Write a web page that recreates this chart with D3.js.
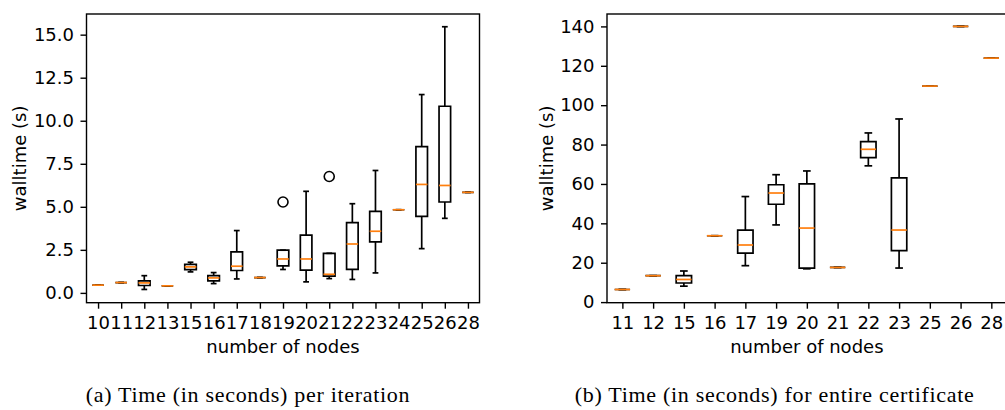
<!DOCTYPE html>
<meta http-equiv="content-type" content="text/html; charset=utf-8" />
<html>
  <head>
    <script src="https://d3js.org/d3.v7.min.js"></script>
    <style>
      body { margin: 0; background: #fff; }
      .tick text { font-family: "DejaVu Sans", sans-serif; font-size: 18px; fill: #000; }
      .lbl { font-family: "DejaVu Sans", sans-serif; font-size: 18px; fill: #000; }
      .caption { font-family: "Liberation Serif", "Times New Roman", serif; font-size: 22px; letter-spacing: 0.7px; fill: #000; }
    </style>
  </head>
  <body>
    <div id="viz"></div>
    <script>
      // (a) time per iteration
      let leftNodes = ['10','11','12','13','15','16','17','18','19','20','21','22','23','24','25','26','28'];
      let leftLo  = [0.45, 0.60, 0.20, 0.41, 1.22, 0.54, 0.81, 0.89, 1.36, 0.64, 0.83, 0.78, 1.16, 4.83, 2.57, 4.33, 5.84];
      let leftQ1  = [0.45, 0.60, 0.43, 0.41, 1.35, 0.70, 1.30, 0.89, 1.57, 1.32, 0.97, 1.37, 2.96, 4.83, 4.45, 5.28, 5.84];
      let leftMed = [0.45, 0.60, 0.58, 0.41, 1.51, 0.87, 1.55, 0.89, 1.97, 1.97, 1.08, 2.84, 3.58, 4.83, 6.30, 6.24, 5.84];
      let leftQ3  = [0.45, 0.60, 0.70, 0.41, 1.66, 1.00, 2.38, 0.89, 2.48, 3.36, 2.30, 4.08, 4.74, 4.83, 8.50, 10.84, 5.84];
      let leftHi  = [0.45, 0.60, 1.00, 0.41, 1.78, 1.18, 3.62, 0.89, 2.48, 5.90, 2.30, 5.18, 7.11, 4.83, 11.52, 15.46, 5.84];
      let leftFliers = [[], [], [], [], [], [], [], [], [5.28], [], [6.76], [], [], [], [], [], []];
      let leftTicks = [0, 2.5, 5, 7.5, 10, 12.5, 15];

      // (b) time for entire certificate
      let rightNodes = ['11','12','15','16','17','19','20','21','22','23','25','26','28'];
      let rightLo  = [6.4, 13.4, 8.1, 33.7, 18.5, 39.2, 16.9, 17.6, 69.2, 17.3, 109.7, 140.0, 123.9];
      let rightQ1  = [6.4, 13.4, 9.7, 33.7, 24.9, 49.7, 17.3, 17.6, 73.4, 26.1, 109.7, 140.0, 123.9];
      let rightMed = [6.4, 13.4, 11.5, 33.7, 29.0, 55.4, 37.6, 17.6, 77.6, 36.6, 109.7, 140.0, 123.9];
      let rightQ3  = [6.4, 13.4, 13.4, 33.7, 36.6, 59.6, 60.0, 17.6, 81.5, 63.1, 109.7, 140.0, 123.9];
      let rightHi  = [6.4, 13.4, 15.8, 33.7, 53.6, 64.7, 66.6, 17.6, 85.9, 93.0, 109.7, 140.0, 123.9];
      let rightFliers = rightNodes.map(() => []);
      let rightTicks = [0, 20, 40, 60, 80, 100, 120, 140];

      let svg = d3.select('#viz')
        .append('svg')
        .attr('width', 1005)
        .attr('height', 410);

      function boxPanel(opt) {
        let x = d3.scalePoint()
          .domain(opt.nodes)
          .range([opt.left, opt.right])
          .padding(0.5);
        let y = d3.scaleLinear()
          .domain(opt.yDomain)
          .range([opt.bottom, opt.top]);

        let g = svg.append('g');
        let boxW = x.step() * 0.5;
        let stats = opt.nodes.map((n, i) => ({
          n: n, lo: opt.lo[i], q1: opt.q1[i], med: opt.med[i], q3: opt.q3[i], hi: opt.hi[i], fl: opt.fliers[i]
        }));

        let bx = g.selectAll('.box').data(stats).join('g').attr('class', 'box')
          .attr('fill', 'none').attr('stroke', '#000').attr('stroke-width', 1.7);

        // box
        bx.append('path')
          .attr('d', d => `M${x(d.n) - boxW / 2},${y(d.q1)}H${x(d.n) + boxW / 2}V${y(d.q3)}H${x(d.n) - boxW / 2}Z`);
        // whiskers
        bx.append('line')
          .attr('x1', d => x(d.n)).attr('x2', d => x(d.n))
          .attr('y1', d => y(d.q1)).attr('y2', d => y(d.lo));
        bx.append('line')
          .attr('x1', d => x(d.n)).attr('x2', d => x(d.n))
          .attr('y1', d => y(d.q3)).attr('y2', d => y(d.hi));
        // caps
        bx.append('line')
          .attr('x1', d => x(d.n) - boxW / 4).attr('x2', d => x(d.n) + boxW / 4)
          .attr('y1', d => y(d.lo)).attr('y2', d => y(d.lo));
        bx.append('line')
          .attr('x1', d => x(d.n) - boxW / 4).attr('x2', d => x(d.n) + boxW / 4)
          .attr('y1', d => y(d.hi)).attr('y2', d => y(d.hi));
        // fliers
        bx.selectAll('circle').data(d => d.fl.map(v => ({n: d.n, v: v}))).join('circle')
          .attr('cx', d => x(d.n)).attr('cy', d => y(d.v)).attr('r', 5)
          .attr('stroke-width', 1.6);
        // median
        bx.append('line')
          .attr('stroke', '#ff7f0e')
          .attr('x1', d => x(d.n) - boxW / 2).attr('x2', d => x(d.n) + boxW / 2)
          .attr('y1', d => y(d.med)).attr('y2', d => y(d.med));

        // axes
        let xAxis = g.append('g')
          .attr('transform', `translate(0,${opt.bottom})`)
          .call(d3.axisBottom(x).tickSize(6).tickSizeOuter(0).tickPadding(7.5));
        let yAxis = g.append('g')
          .attr('transform', `translate(${opt.left},0)`)
          .call(d3.axisLeft(y).tickValues(opt.ticks).tickFormat(opt.fmt).tickSize(6).tickSizeOuter(0).tickPadding(6.5));
        [xAxis, yAxis].forEach(a => {
          a.select('.domain').remove();
          a.selectAll('.tick line').attr('stroke', '#000').attr('stroke-width', 1.4);
          a.attr('font-family', null).attr('font-size', null);
        });

        // frame
        g.append('rect')
          .attr('x', opt.left).attr('y', opt.top)
          .attr('width', opt.right - opt.left).attr('height', opt.bottom - opt.top)
          .attr('fill', 'none').attr('stroke', '#000').attr('stroke-width', 1.4);

        g.append('text')
          .attr('class', 'lbl')
          .attr('text-anchor', 'middle')
          .attr('x', (opt.left + opt.right) / 2)
          .attr('y', 353)
          .text('number of nodes');
        g.append('text')
          .attr('class', 'lbl')
          .attr('text-anchor', 'middle')
          .attr('transform', `translate(${opt.ylabX},${(opt.top + opt.bottom) / 2})rotate(-90)`)
          .text('walltime (s)');
        g.append('text')
          .attr('class', 'caption')
          .attr('text-anchor', 'middle')
          .attr('x', opt.capX)
          .attr('y', 402)
          .text(opt.caption);
      }

      boxPanel({
        nodes: leftNodes, lo: leftLo, q1: leftQ1, med: leftMed, q3: leftQ3, hi: leftHi, fliers: leftFliers,
        ticks: leftTicks, fmt: d3.format('.1f'), yDomain: [-0.57, 16.2],
        left: 86.5, right: 479.5, top: 14, bottom: 302.7, ylabX: 26, capX: 248,
        caption: '(a) Time (in seconds) per iteration'
      });
      boxPanel({
        nodes: rightNodes, lo: rightLo, q1: rightQ1, med: rightMed, q3: rightQ3, hi: rightHi, fliers: rightFliers,
        ticks: rightTicks, fmt: d3.format('d'), yDomain: [-0.3, 146.3],
        left: 607, right: 1006.7, top: 14, bottom: 302.7, ylabX: 552.5, capX: 774.7,
        caption: '(b) Time (in seconds) for entire certificate'
      });
    </script>
  </body>
</html>
